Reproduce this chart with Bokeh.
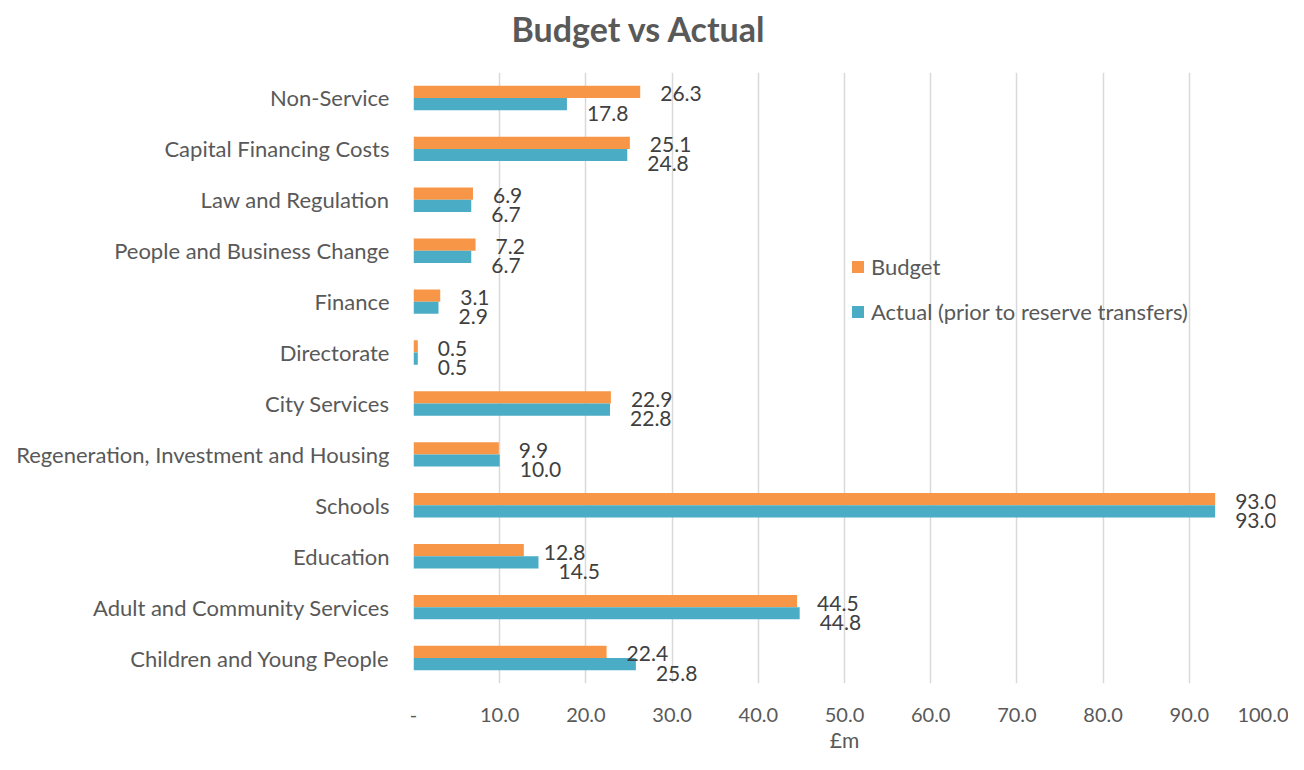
from bokeh.plotting import figure
from bokeh.models import ColumnDataSource, FixedTicker, FactorRange, Range1d, Legend, LegendItem, Title
from bokeh.transform import dodge
from bokeh.core.properties import value
from bokeh.embed import file_html
from bokeh.resources import INLINE

categories = ["Non-Service", "Capital Financing Costs", "Law and Regulation",
              "People and Business Change", "Finance", "Directorate", "City Services",
              "Regeneration, Investment and Housing", "Schools", "Education",
              "Adult and Community Services", "Children and Young People"]
budget = [26.3, 25.1, 6.9, 7.2, 3.1, 0.5, 22.9, 9.9, 93.0, 12.8, 44.5, 22.4]
actual = [17.8, 24.8, 6.7, 6.7, 2.9, 0.5, 22.8, 10.0, 93.0, 14.5, 44.8, 25.8]
tick_values = [0, 10, 20, 30, 40, 50, 60, 70, 80, 90, 100]
tick_labels = ["-", "10.0", "20.0", "30.0", "40.0", "50.0", "60.0", "70.0", "80.0", "90.0", "100.0"]
title_text = "Budget vs Actual"

FONT = "Lato"
AXIS_COL = "#595959"
LABEL_COL = "#404040"
ORANGE = "#F79646"
BLUE = "#4BACC6"

src = ColumnDataSource(dict(
    cat=categories, budget=budget, actual=actual,
    blab=["%.1f" % v for v in budget], alab=["%.1f" % v for v in actual],
))

factors = list(reversed(categories))
p = figure(width=1288, height=754, y_range=FactorRange(*factors), x_range=Range1d(0, 100),
           output_backend="svg", toolbar_location=None,
           min_border_left=413, min_border_right=13, min_border_top=72, min_border_bottom=66)

p.title.text = title_text
p.title.text_font = FONT
p.title.text_font_size = "34px"
p.title.text_font_style = "bold"
p.title.text_color = AXIS_COL
p.title.align = "left"
p.title.offset = 98

# blank spacer panel between the title and the plot frame
p.add_layout(Title(text=" ", text_font_size="10px", standoff=6), "above")

bh = 0.24
rb = p.hbar(y=dodge("cat", 0.12, range=p.y_range), right="budget", left=0, height=bh,
            source=src, fill_color=ORANGE, line_color=None)
ra = p.hbar(y=dodge("cat", -0.12, range=p.y_range), right="actual", left=0, height=bh,
            source=src, fill_color=BLUE, line_color=None)

p.text(x="budget", y=dodge("cat", 0.12, range=p.y_range), text="blab", source=src,
       x_offset=20, y_offset=2, text_baseline="middle", text_align="left",
       text_font=value(FONT), text_font_size="21px", text_color=LABEL_COL)
p.text(x="actual", y=dodge("cat", -0.12, range=p.y_range), text="alab", source=src,
       x_offset=20, y_offset=9, text_baseline="middle", text_align="left",
       text_font=value(FONT), text_font_size="21px", text_color=LABEL_COL)

# x axis
p.xaxis.ticker = FixedTicker(ticks=tick_values)
p.xaxis.major_label_overrides = {v: l for v, l in zip(tick_values, tick_labels)}
p.xaxis.axis_line_color = None
p.xaxis.major_tick_line_color = None
p.xaxis.minor_tick_line_color = None
p.xaxis.major_label_standoff = 18
p.xaxis.major_label_text_font = FONT
p.xaxis.major_label_text_font_size = "20px"
p.xaxis.major_label_text_color = AXIS_COL
p.xaxis.axis_label = "£m"
p.xaxis.axis_label_text_font = FONT
p.xaxis.axis_label_text_font_size = "21px"
p.xaxis.axis_label_text_font_style = "normal"
p.xaxis.axis_label_text_color = AXIS_COL
p.xaxis.axis_label_standoff = 2

# y axis
p.yaxis.axis_line_color = None
p.yaxis.major_tick_line_color = None
p.yaxis.minor_tick_line_color = None
p.yaxis.major_label_standoff = 18
p.yaxis.major_label_text_font = FONT
p.yaxis.major_label_text_font_size = "22px"
p.yaxis.major_label_text_color = AXIS_COL

p.ygrid.grid_line_color = None
p.xgrid.grid_line_color = "#D9D9D9"
p.xgrid.grid_line_width = 1.5
p.outline_line_color = None

legend = Legend(items=[LegendItem(label="Budget", renderers=[rb]),
                       LegendItem(label="Actual (prior to reserve transfers)", renderers=[ra])],
                location=(437, 358), orientation="vertical",
                padding=0, margin=0, spacing=18, label_height=20, glyph_height=15, glyph_width=15,
                label_standoff=6, label_text_font=FONT, label_text_font_size="22px",
                label_text_color=AXIS_COL, border_line_color=None, background_fill_alpha=0)
p.add_layout(legend)

open("out.html", "w").write(file_html(p, INLINE))
